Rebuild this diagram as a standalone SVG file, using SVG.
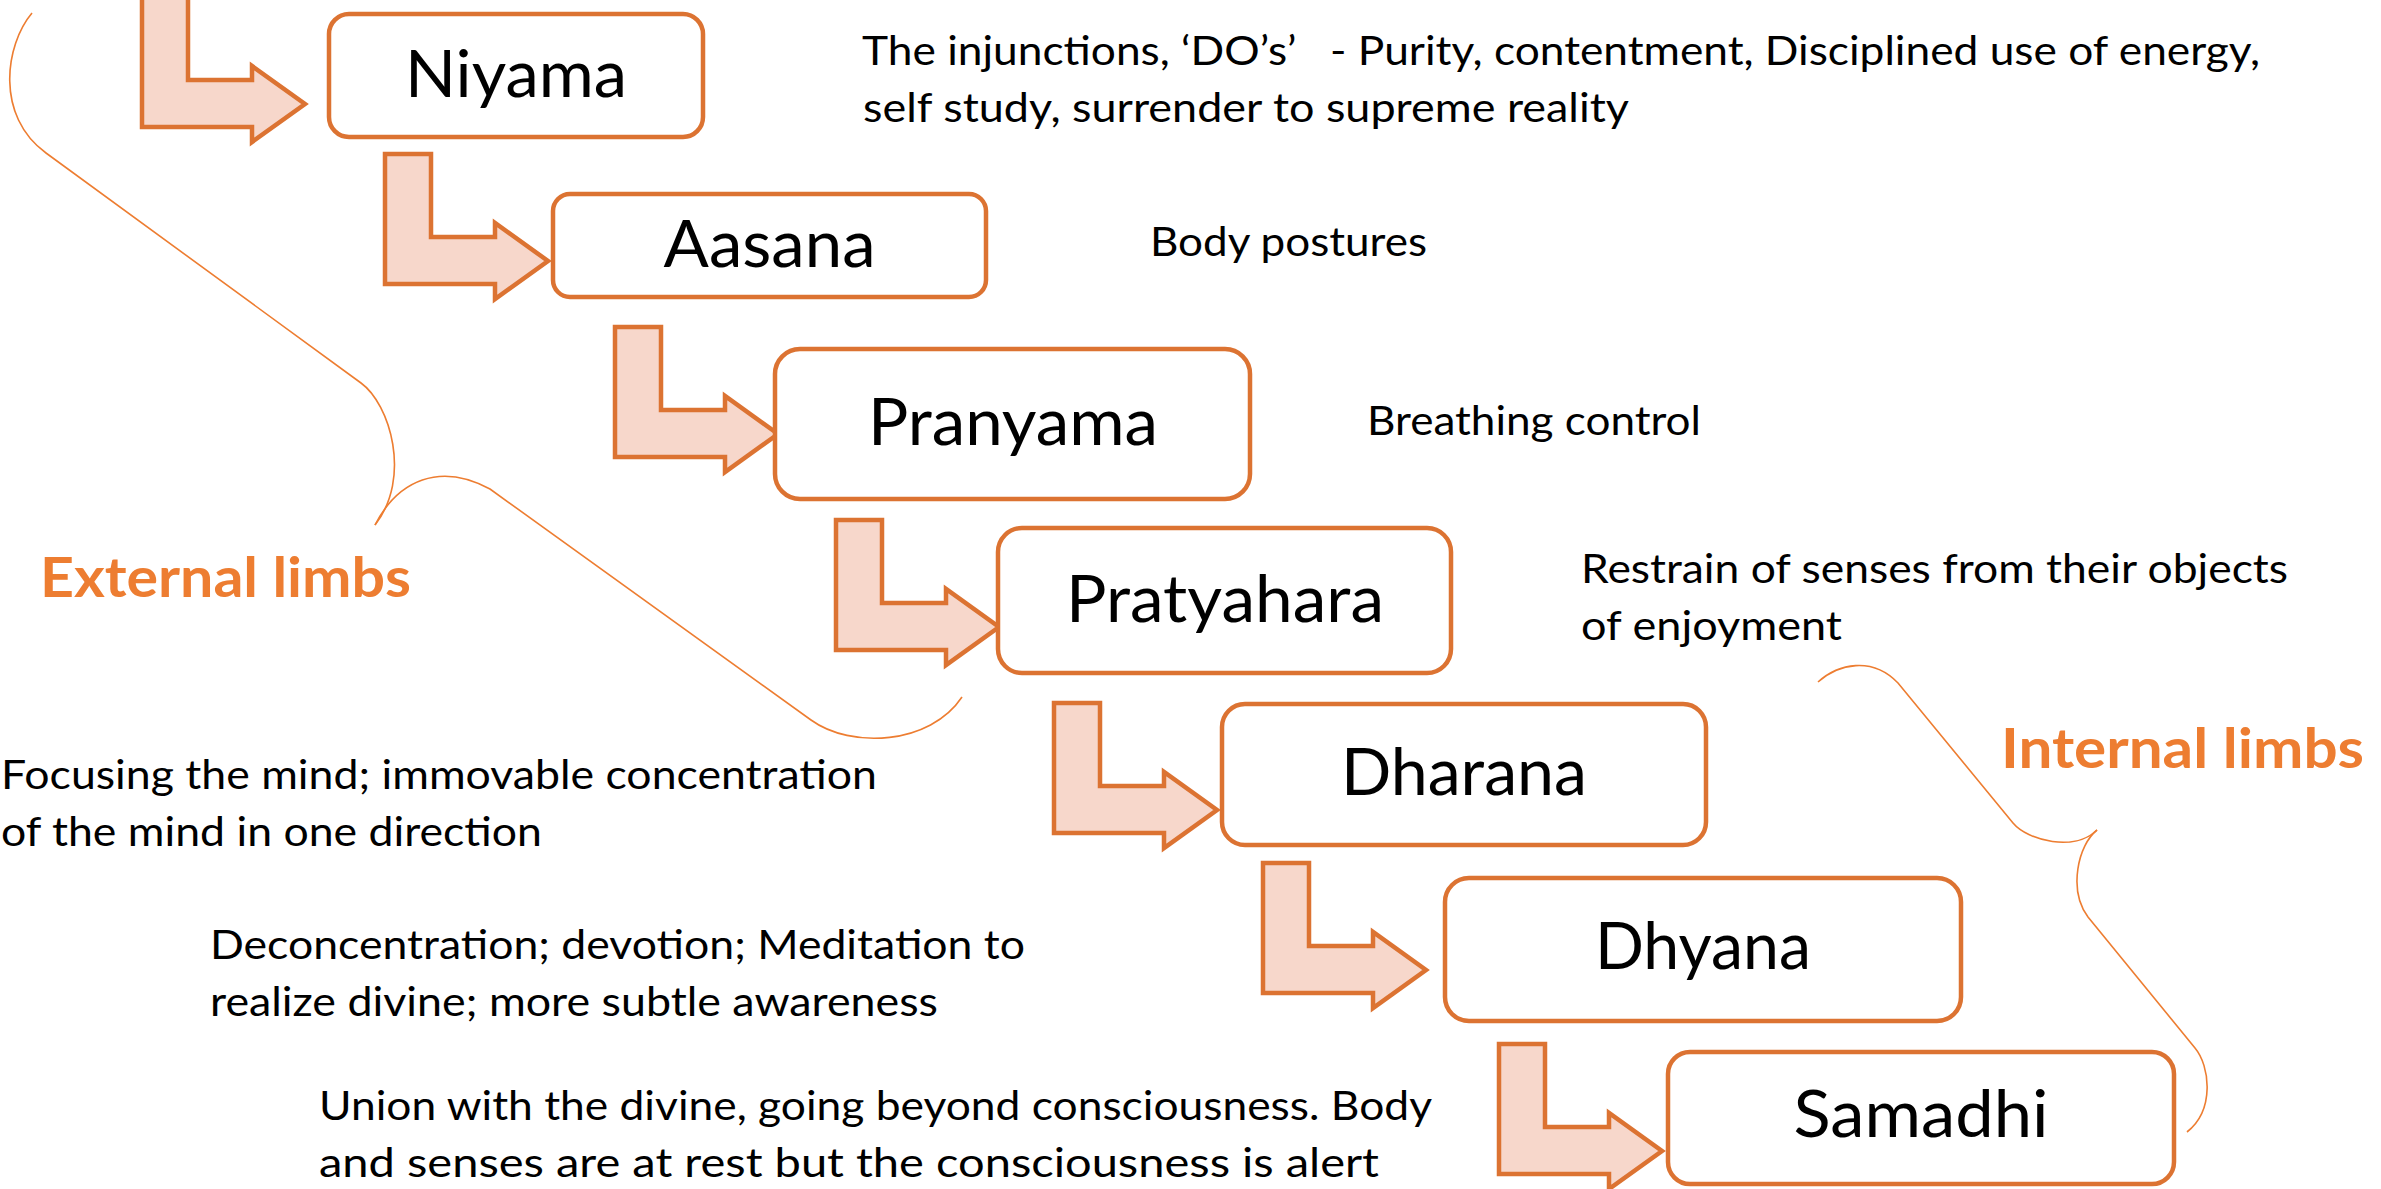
<svg xmlns="http://www.w3.org/2000/svg" width="2381" height="1189" viewBox="0 0 2381 1189">
<style>
.box{fill:#FFFFFF;stroke:#DC7332;stroke-width:4.5}
.arw{fill:#F7D7CB;stroke:#DC7332;stroke-width:4.5;stroke-linejoin:miter}
.lbl{font-family:Lato,"Open Sans","Liberation Sans",sans-serif;font-size:66px;fill:#000;text-anchor:middle}
.desc{font-family:Lato,"Open Sans","Liberation Sans",sans-serif;font-size:40px;fill:#000;white-space:pre}
.grp{font-family:Lato,"Open Sans","Liberation Sans",sans-serif;font-size:55px;font-weight:bold;fill:#ED7D31}
.brace{fill:none;stroke:#ED7D31;stroke-width:1.6}
</style>
<defs>
<path id="bent" d="M0,0 H46 V83 H110 V69 L163,107 L110,145 V130 H0 Z"/>
</defs>
<g id="connectors">
<use href="#bent" class="arw" transform="translate(142,-3)"/>
<use href="#bent" class="arw" transform="translate(385,154)"/>
<use href="#bent" class="arw" transform="translate(615,327)"/>
<use href="#bent" class="arw" transform="translate(836,520)"/>
<use href="#bent" class="arw" transform="translate(1054,703)"/>
<use href="#bent" class="arw" transform="translate(1263,863)"/>
<use href="#bent" class="arw" transform="translate(1499,1044)"/>
</g>
<g id="node-niyama">
<rect class="box" x="329" y="14" width="374" height="123" rx="20"/>
<text class="lbl" x="516" y="97" textLength="222" lengthAdjust="spacingAndGlyphs">Niyama</text>
</g>
<g id="node-aasana">
<rect class="box" x="553" y="194" width="433" height="103" rx="17"/>
<text class="lbl" x="769.5" y="267" textLength="212" lengthAdjust="spacingAndGlyphs">Aasana</text>
</g>
<g id="node-pranyama">
<rect class="box" x="775" y="349" width="475" height="150" rx="25"/>
<text class="lbl" x="1013" y="445" textLength="290" lengthAdjust="spacingAndGlyphs">Pranyama</text>
</g>
<g id="node-pratyahara">
<rect class="box" x="998" y="528" width="453" height="145" rx="24"/>
<text class="lbl" x="1225" y="622" textLength="318" lengthAdjust="spacingAndGlyphs">Pratyahara</text>
</g>
<g id="node-dharana">
<rect class="box" x="1222" y="704" width="484" height="141" rx="23"/>
<text class="lbl" x="1464" y="795" textLength="246" lengthAdjust="spacingAndGlyphs">Dharana</text>
</g>
<g id="node-dhyana">
<rect class="box" x="1445" y="878" width="516" height="143" rx="24"/>
<text class="lbl" x="1703" y="969" textLength="216" lengthAdjust="spacingAndGlyphs">Dhyana</text>
</g>
<g id="node-samadhi">
<rect class="box" x="1668" y="1052" width="506" height="132" rx="22"/>
<text class="lbl" x="1921" y="1137" textLength="255" lengthAdjust="spacingAndGlyphs">Samadhi</text>
</g>
<g id="descriptions">
<text class="desc" x="862" y="65" textLength="1398" lengthAdjust="spacingAndGlyphs">The injunctions, ‘DO’s’   - Purity, contentment, Disciplined use of energy,</text>
<text class="desc" x="863" y="122" textLength="766" lengthAdjust="spacingAndGlyphs">self study, surrender to supreme reality</text>
<text class="desc" x="1150" y="256" textLength="277" lengthAdjust="spacingAndGlyphs">Body postures</text>
<text class="desc" x="1367" y="435" textLength="334" lengthAdjust="spacingAndGlyphs">Breathing control</text>
<text class="desc" x="1581" y="583" textLength="707" lengthAdjust="spacingAndGlyphs">Restrain of senses from their objects</text>
<text class="desc" x="1581" y="640" textLength="261" lengthAdjust="spacingAndGlyphs">of enjoyment</text>
<text class="desc" x="1" y="789" textLength="876" lengthAdjust="spacingAndGlyphs">Focusing the mind; immovable concentration</text>
<text class="desc" x="1" y="846" textLength="541" lengthAdjust="spacingAndGlyphs">of the mind in one direction</text>
<text class="desc" x="210" y="959" textLength="815" lengthAdjust="spacingAndGlyphs">Deconcentration; devotion; Meditation to</text>
<text class="desc" x="210" y="1016" textLength="728" lengthAdjust="spacingAndGlyphs">realize divine; more subtle awareness</text>
<text class="desc" x="319" y="1120" textLength="1113" lengthAdjust="spacingAndGlyphs">Union with the divine, going beyond consciousness. Body</text>
<text class="desc" x="319" y="1177" textLength="1060" lengthAdjust="spacingAndGlyphs">and senses are at rest but the consciousness is alert</text>
</g>
<g id="external-limbs">
<path class="brace" d="M32,13 C5,45 -5,116 46,153 L361,383 C390,404 412,478 375,525"/>
<path class="brace" d="M375,525 C398,480 440,462 490,489 L811,720 C851,749 930,745 962,697"/>
<text class="grp" x="40" y="597" textLength="371" lengthAdjust="spacingAndGlyphs">External limbs</text>
</g>
<g id="internal-limbs">
<path class="brace" d="M1818,682 C1838,664 1872,656 1898,683 L2013,823 C2028,841 2075,852 2097,830"/>
<path class="brace" d="M2097,830 C2078,845 2068,890 2088,917 L2195,1048 C2210,1066 2215,1110 2187,1132"/>
<text class="grp" x="2001" y="768" textLength="363" lengthAdjust="spacingAndGlyphs">Internal limbs</text>
</g>
</svg>
